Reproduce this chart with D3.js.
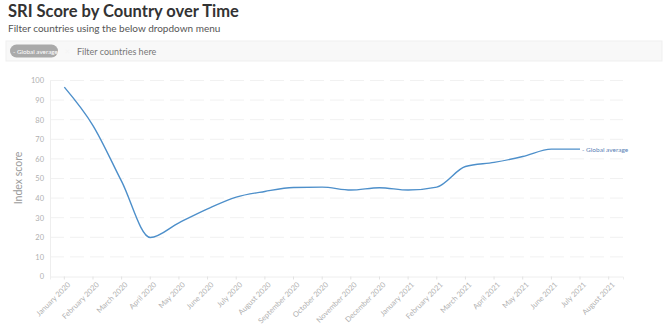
<!DOCTYPE html>
<html>
<head>
<meta charset="utf-8">
<script src="https://cdn.jsdelivr.net/npm/d3@7"></script>
<style>
  body { margin: 0; background: #fff; font-family: "Lato", "Open Sans", sans-serif; }
  svg text { font-family: "Lato", "Open Sans", sans-serif; }
</style>
</head>
<body>
<svg id="chart" width="670" height="326"></svg>
<script>
// months on the x axis
const months = ["January 2020", "February 2020", "March 2020", "April 2020", "May 2020", "June 2020",
  "July 2020", "August 2020", "September 2020", "October 2020", "November 2020", "December 2020",
  "January 2021", "February 2021", "March 2021", "April 2021", "May 2021", "June 2021",
  "July 2021", "August 2021"];

// global average index score (no value yet for August 2021)
const globalAverage = [96.6, 77, 48.5, 19.9, 27.4, 34.5, 40.5, 43.4, 45.4, 45.6, 44.1, 45.3,
  44.1, 45.6, 56.1, 58.2, 61.2, 65, 65];

const yTicks = [0, 10, 20, 30, 40, 50, 60, 70, 80, 90, 100];
const seriesName = "Global average";

const svg = d3.select("#chart");

// header
svg.append("text")
  .attr("x", 8).attr("y", 17)
  .attr("font-size", 16.5).attr("font-weight", "bold")
  .attr("fill", "#333")
  .text("SRI Score by Country over Time");

svg.append("text")
  .attr("x", 8).attr("y", 31.5)
  .attr("font-size", 10).attr("fill", "#555")
  .text("Filter countries using the below dropdown menu");

// filter box
svg.append("rect")
  .attr("x", 6).attr("y", 41).attr("width", 656).attr("height", 20)
  .attr("fill", "#f8f8f8").attr("stroke", "#efefef");

svg.append("rect")
  .attr("x", 10).attr("y", 44.5).attr("width", 48).attr("height", 13).attr("rx", 6.5)
  .attr("fill", "#aaa");
svg.append("text")
  .attr("x", 13).attr("y", 53.5).attr("font-size", 6.3).attr("fill", "#fff")
  .text("- " + seriesName);
svg.append("text")
  .attr("x", 65).attr("y", 54).attr("font-size", 8).attr("fill", "#f4f4f4")
  .text("×");
svg.append("text")
  .attr("x", 77).attr("y", 54.5).attr("font-size", 9).attr("fill", "#777")
  .text("Filter countries here");

// scales
const x = d3.scaleBand().domain(months).range([50, 623]);
const xc = m => x(m) + x.bandwidth() / 2;
const y = d3.scaleLinear().domain([0, 100]).range([276.5, 80.5]);

// grid
svg.append("g").selectAll("line")
  .data(yTicks.filter(t => t > 0))
  .join("line")
  .attr("x1", 50).attr("x2", 623)
  .attr("y1", d => y(d)).attr("y2", d => y(d))
  .attr("stroke", "#f1f1f1").attr("stroke-width", 1)
  .attr("stroke-dasharray", "14,6");

// y axis
const yAxis = svg.append("g")
  .attr("transform", "translate(50,0)")
  .call(d3.axisLeft(y).tickValues(yTicks).tickSize(0).tickPadding(6));
yAxis.select(".domain").attr("stroke", "#eeeeee");
yAxis.selectAll("text").attr("font-size", 7.5).attr("fill", "#b0b0b0");

svg.append("text")
  .attr("transform", "translate(22,178) rotate(-90)")
  .attr("text-anchor", "middle")
  .attr("font-size", 10.5).attr("fill", "#999")
  .text("Index score");

// x axis
const xAxis = svg.append("g")
  .attr("transform", "translate(0,276.5)")
  .call(d3.axisBottom(x).tickSize(3).tickPadding(4));
xAxis.select(".domain").attr("stroke", "#eeeeee");
xAxis.selectAll(".tick line").attr("stroke", "#e2e2e2");
xAxis.selectAll("text")
  .attr("font-size", 7.5).attr("fill", "#b0b0b0")
  .attr("text-anchor", "end")
  .attr("transform", "rotate(-45)")
  .attr("dx", "-0.2em").attr("dy", "0.5em");

// line
const pts = globalAverage.map((v, i) => [xc(months[i]), y(v)]);
const line = d3.line().curve(d3.curveMonotoneX);
svg.append("path")
  .attr("d", line(pts))
  .attr("fill", "none")
  .attr("stroke", "#4d8fca")
  .attr("stroke-width", 1.4);

const last = pts[pts.length - 1];
svg.append("text")
  .attr("x", last[0] + 2).attr("y", last[1] + 2.5)
  .attr("font-size", 6.5).attr("fill", "#5a7fb5")
  .text("- " + seriesName);
</script>
</body>
</html>
